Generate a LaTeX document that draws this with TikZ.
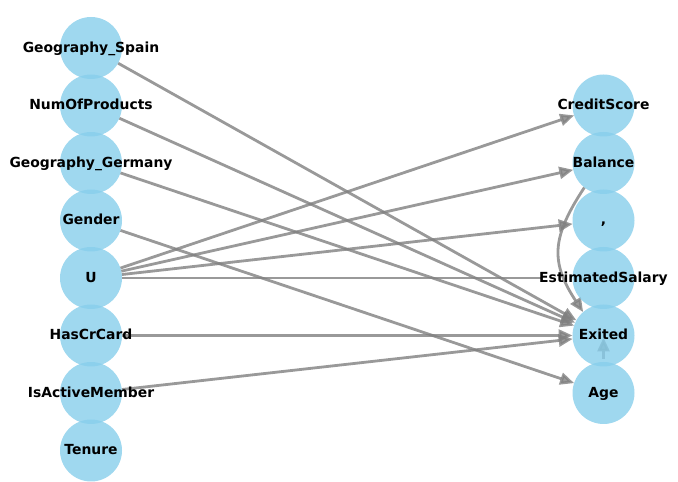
\documentclass[tikz,border=0pt]{standalone}
\usepackage{fontspec}
\setmainfont{DejaVu Sans}
\usetikzlibrary{arrows.meta,backgrounds}
\definecolor{skyblue}{HTML}{87CEEB}
\begin{document}
\begin{tikzpicture}[x=1pt,y=1pt,
  var/.style={circle, fill=skyblue, fill opacity=0.8, minimum size=62pt, inner sep=0pt, outer sep=0pt},
  lab/.style={font=\bfseries\fontsize{13.9}{16}\selectfont, text height=10.6pt, text depth=2.4pt, inner sep=0pt, text=black},
  edge/.style={draw=gray, opacity=0.8, line width=2.8pt, -{Triangle[length=14pt,width=12pt]}},
  plainedge/.style={draw=gray, opacity=0.8, line width=2.8pt}
]
\useasboundingbox (0,0) rectangle (678,482);
% left column
\node[var, label={[lab]center:Geography\_Spain}] (GS) at (91,434) {};
\node[var, label={[lab]center:NumOfProducts}] (NP) at (91,376.5) {};
\node[var, label={[lab]center:Geography\_Germany}] (GG) at (91,319) {};
\node[var, label={[lab]center:Gender}] (Ge) at (91,261.5) {};
\node[var, label={[lab]center:U}] (U) at (91,204) {};
\node[var, label={[lab]center:HasCrCard}] (HC) at (91,146.5) {};
\node[var, label={[lab]center:IsActiveMember}] (IA) at (91,89) {};
\node[var, label={[lab]center:Tenure}] (Te) at (91,31.5) {};
% right column
\node[var, label={[lab]center:CreditScore}] (CS) at (603.5,376.5) {};
\node[var, label={[lab]center:Balance}] (Ba) at (603.5,319) {};
\node[var, label={[lab]center:,}] (Cm) at (603.5,261.5) {};
\node[var, label={[lab]center:EstimatedSalary}] (ES) at (603.5,204) {};
\node[var, label={[lab]center:Exited}] (Ex) at (603.5,146.5) {};
\node[var, label={[lab]center:Age}] (Ag) at (603.5,89) {};
\begin{scope}[on background layer]
  \draw[edge] (GS) -- (Ex);
  \draw[edge] (NP) -- (Ex);
  \draw[edge] (GG) -- (Ex);
  \draw[edge] (Ge) -- (Ag);
  \draw[edge] (U) -- (CS);
  \draw[edge] (U) -- (Ba);
  \draw[edge] (U) -- (Cm);
  \draw[plainedge, shorten >=32pt] (U) -- (ES);
  \draw[edge] (HC) -- (Ex);
  \draw[edge] (IA) -- (Ex);
  \draw[edge] (Ba.232) .. controls +(-33,-50) and +(-33,50) .. (Ex.131);
  \draw[edge, shorten <=34pt, shorten >=2pt] (Ag.center) -- (Ex.center);
\end{scope}
\end{tikzpicture}
\end{document}
